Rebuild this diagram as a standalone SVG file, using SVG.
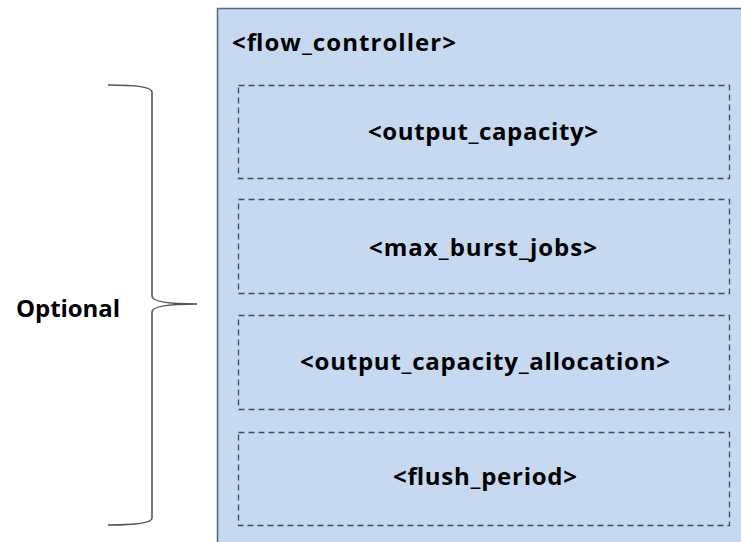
<svg xmlns="http://www.w3.org/2000/svg" width="741" height="542" viewBox="0 0 741 542">
<style>
.t{font-family:"Open Sans","Liberation Sans",sans-serif;font-weight:bold;font-size:24px;fill:#000}
.c{text-anchor:middle}
.d{fill:none;stroke:#3e4e60;stroke-width:1.3;stroke-dasharray:6,4}
</style>
<rect x="0" y="0" width="741" height="542" fill="#fff"/>
<g id="flow_controller">
<rect x="217.5" y="8.5" width="530" height="540" fill="#c6d9f1" stroke="#50698a" stroke-width="1.5"/>
<text class="t" x="232" y="51" textLength="224" lengthAdjust="spacing">&lt;flow_controller&gt;</text>
</g>
<g id="output_capacity">
<rect class="d" x="238.5" y="85.5" width="491" height="93"/>
<text class="t c" x="483" y="140" textLength="230" lengthAdjust="spacing">&lt;output_capacity&gt;</text>
</g>
<g id="max_burst_jobs">
<rect class="d" x="238.5" y="199.5" width="491" height="94"/>
<text class="t c" x="483" y="256" textLength="228" lengthAdjust="spacing">&lt;max_burst_jobs&gt;</text>
</g>
<g id="output_capacity_allocation">
<rect class="d" x="238.5" y="315.5" width="491" height="94"/>
<text class="t c" x="485" y="370" textLength="370" lengthAdjust="spacing">&lt;output_capacity_allocation&gt;</text>
</g>
<g id="flush_period">
<rect class="d" x="238.5" y="432.5" width="491" height="93"/>
<text class="t c" x="485" y="485" textLength="184" lengthAdjust="spacing">&lt;flush_period&gt;</text>
</g>
<g id="brace">
<path d="M108,85 C130,85 152,86 152,92 L152,296 C152,300 160,304 197,304 C160,304 152,308 152,312 L152,518 C152,524 130,525 108,525" fill="none" stroke="#555" stroke-width="1.6"/>
<text class="t" x="16" y="317" textLength="104" lengthAdjust="spacing">Optional</text>
</g>
</svg>
